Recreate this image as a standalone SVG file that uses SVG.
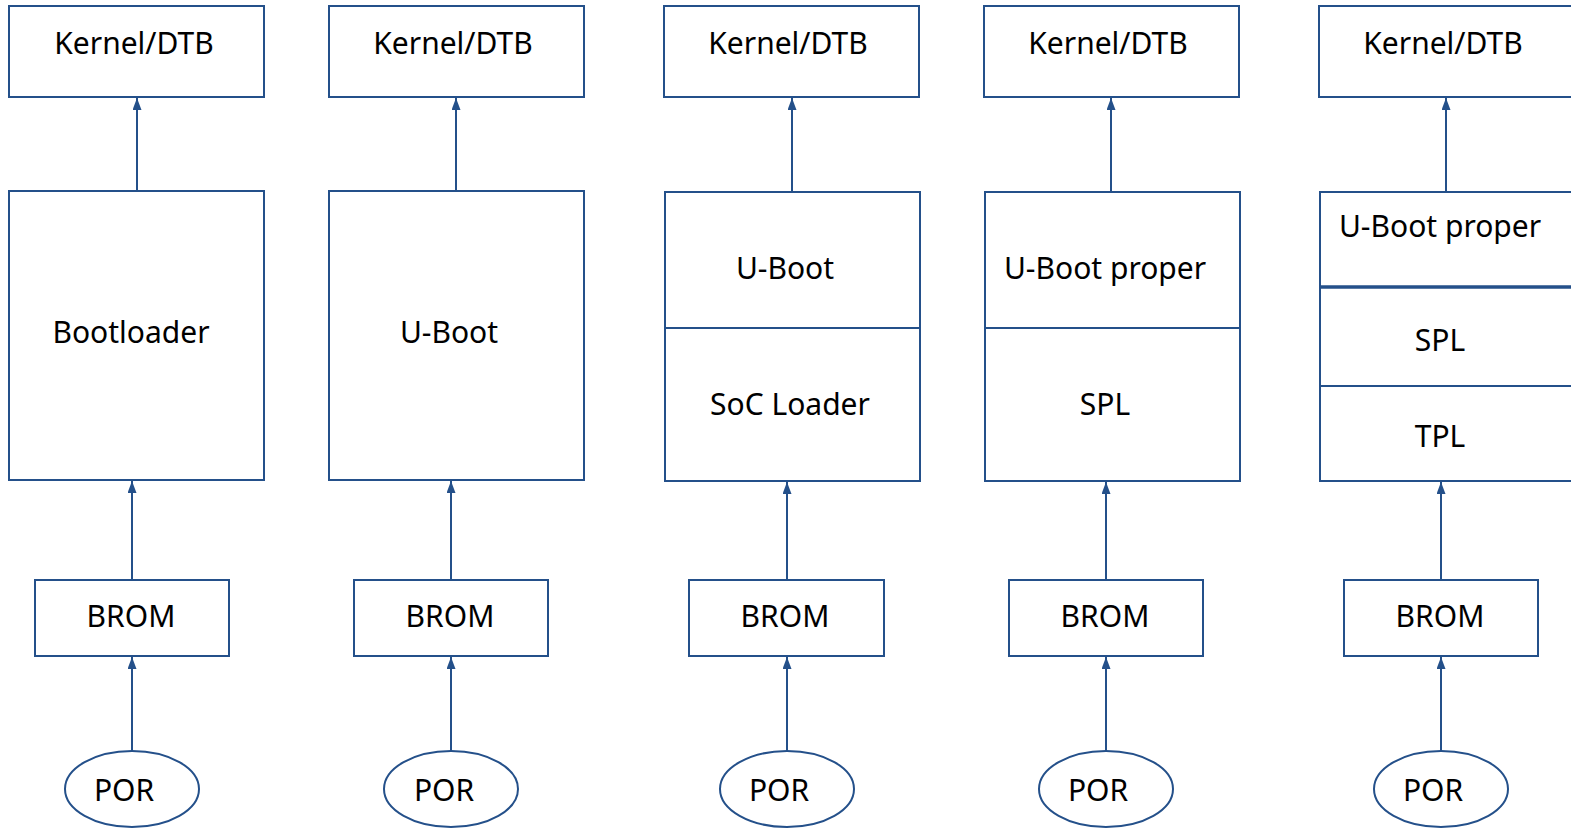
<svg xmlns="http://www.w3.org/2000/svg" width="1571" height="828" viewBox="0 0 1571 828">
<defs>
<marker id="ah" viewBox="0 0 12 10" refX="12" refY="5" markerWidth="12" markerHeight="9" markerUnits="userSpaceOnUse" orient="auto" preserveAspectRatio="none">
<path d="M0,0 L12,5 L0,10 Z" fill="#24508a"/>
</marker>
</defs>
<style>
.b{fill:#fff;stroke:#24508a;stroke-width:2}
.d{stroke:#24508a;stroke-width:2}
.t{font-family:"Noto Sans","Open Sans",sans-serif;font-size:30px;fill:#000;text-anchor:middle}
.c{stroke:#24508a;stroke-width:2;fill:none;marker-end:url(#ah)}
</style>
<rect width="1571" height="828" fill="#fff"/>
<g id="connectors">
<line class="c" x1="137" y1="191" x2="137" y2="98"/>
<line class="c" x1="132" y1="579" x2="132" y2="481"/>
<line class="c" x1="132" y1="751" x2="132" y2="657"/>
<line class="c" x1="456" y1="191" x2="456" y2="98"/>
<line class="c" x1="451" y1="579" x2="451" y2="481"/>
<line class="c" x1="451" y1="751" x2="451" y2="657"/>
<line class="c" x1="792" y1="191" x2="792" y2="98"/>
<line class="c" x1="787" y1="579" x2="787" y2="482"/>
<line class="c" x1="787" y1="751" x2="787" y2="657"/>
<line class="c" x1="1111" y1="191" x2="1111" y2="98"/>
<line class="c" x1="1106" y1="579" x2="1106" y2="482"/>
<line class="c" x1="1106" y1="751" x2="1106" y2="657"/>
<line class="c" x1="1446" y1="191" x2="1446" y2="98"/>
<line class="c" x1="1441" y1="579" x2="1441" y2="482"/>
<line class="c" x1="1441" y1="751" x2="1441" y2="657"/>
</g>
<!-- column 1 -->
<g id="k1"><rect class="b" x="9" y="6" width="255" height="91"/><text class="t" x="134" y="54">Kernel/DTB</text></g>
<g id="bl1"><rect class="b" x="9" y="191" width="255" height="289"/><text class="t" x="131" y="343">Bootloader</text></g>
<g id="br1"><rect class="b" x="35" y="580" width="194" height="76"/><text class="t" x="131" y="627">BROM</text></g>
<g id="p1"><ellipse class="b" cx="132" cy="789" rx="67" ry="38"/><text class="t" x="124" y="801">POR</text></g>
<!-- column 2 -->
<g id="k2"><rect class="b" x="329" y="6" width="255" height="91"/><text class="t" x="453" y="54">Kernel/DTB</text></g>
<g id="ub2"><rect class="b" x="329" y="191" width="255" height="289"/><text class="t" x="449" y="343">U-Boot</text></g>
<g id="br2"><rect class="b" x="354" y="580" width="194" height="76"/><text class="t" x="450" y="627">BROM</text></g>
<g id="p2"><ellipse class="b" cx="451" cy="789" rx="67" ry="38"/><text class="t" x="444" y="801">POR</text></g>
<!-- column 3 -->
<g id="k3"><rect class="b" x="664" y="6" width="255" height="91"/><text class="t" x="788" y="54">Kernel/DTB</text></g>
<g id="ub3"><rect class="b" x="665" y="192" width="255" height="289"/><line class="d" x1="665" y1="328" x2="920" y2="328"/><text class="t" x="785" y="279">U-Boot</text><text class="t" x="790" y="415">SoC Loader</text></g>
<g id="br3"><rect class="b" x="689" y="580" width="195" height="76"/><text class="t" x="785" y="627">BROM</text></g>
<g id="p3"><ellipse class="b" cx="787" cy="789" rx="67" ry="38"/><text class="t" x="779" y="801">POR</text></g>
<!-- column 4 -->
<g id="k4"><rect class="b" x="984" y="6" width="255" height="91"/><text class="t" x="1108" y="54">Kernel/DTB</text></g>
<g id="ub4"><rect class="b" x="985" y="192" width="255" height="289"/><line class="d" x1="985" y1="328" x2="1240" y2="328"/><text class="t" x="1105" y="279">U-Boot proper</text><text class="t" x="1105" y="415">SPL</text></g>
<g id="br4"><rect class="b" x="1009" y="580" width="194" height="76"/><text class="t" x="1105" y="627">BROM</text></g>
<g id="p4"><ellipse class="b" cx="1106" cy="789" rx="67" ry="38"/><text class="t" x="1098" y="801">POR</text></g>
<!-- column 5 -->
<g id="k5"><rect class="b" x="1319" y="6" width="255" height="91"/><text class="t" x="1443" y="54">Kernel/DTB</text></g>
<g id="ub5"><rect class="b" x="1320" y="192" width="255" height="289"/><line stroke="#24508a" stroke-width="3.5" x1="1320" y1="287" x2="1575" y2="287"/><line class="d" x1="1320" y1="386" x2="1575" y2="386"/><text class="t" x="1440" y="237">U-Boot proper</text><text class="t" x="1440" y="351">SPL</text><text class="t" x="1440" y="447">TPL</text></g>
<g id="br5"><rect class="b" x="1344" y="580" width="194" height="76"/><text class="t" x="1440" y="627">BROM</text></g>
<g id="p5"><ellipse class="b" cx="1441" cy="789" rx="67" ry="38"/><text class="t" x="1433" y="801">POR</text></g>
</svg>
